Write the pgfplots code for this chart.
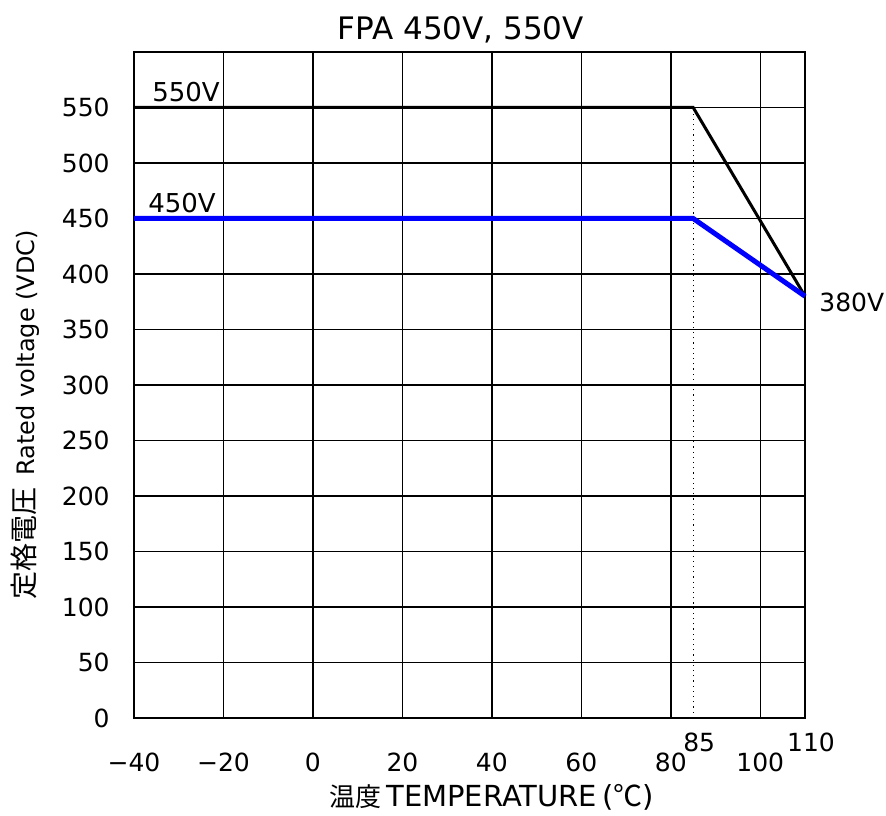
\documentclass[border=0pt]{standalone}
\usepackage{pgfplots}
\pgfplotsset{compat=1.18}
\usepackage{fontspec}
\setmainfont{DejaVu Sans}
\newfontfamily\cjk{Noto Sans CJK JP}
\begin{document}
\begin{tikzpicture}
\begin{axis}[
    width=335.5pt, height=333pt, scale only axis,
    xmin=-40, xmax=110, ymin=0, ymax=600,
    xtick={-40,-20,0,20,40,60,80,100},
    xticklabels={−40,−20,0,20,40,60,80,100},
    ytick={0,50,...,550},
    extra x ticks={85,110},
    extra x tick labels={85,110},
    % the raised labels at 85 and 110
    extra x tick style={grid=none, ticklabel style={yshift=10pt, xshift=3pt}},
    grid=major,
    major grid style={black, line width=0.75pt},
    axis line style={black, line width=1pt},
    major tick length=0pt,
    /pgf/number format/assume math mode=true,
    tick label style={font=\fontsize{12.5}{15}\selectfont},
    xticklabel style={anchor=center, yshift=-22pt},
    yticklabel style={anchor=east, inner sep=0pt, xshift=-12pt},
    title={FPA 450V, 550V},
    title style={font=\fontsize{15.5}{18}\selectfont, at={(rel axis cs:0.487,1)}, anchor=center, yshift=5pt},
    xlabel={{\cjk\fontsize{13}{15}\selectfont 温度}\,TEMPERATURE\,({\cjk ℃})},
    xlabel style={font=\fontsize{14.5}{17}\selectfont, at={(rel axis cs:0.533,0)}, anchor=center, yshift=-39.5pt},
    ylabel={{\cjk\fontsize{14}{16}\selectfont 定格電圧}\hspace{6pt}Rated voltage (VDC)},
    ylabel style={font=\fontsize{12}{14}\selectfont, at={(rel axis cs:-0.1624,0.455)}, anchor=center},
    clip=false,
]
% dotted marker at 85 C
\addplot[black, dotted, line width=0.6pt] coordinates {(85,0) (85,550)};
% 550V rating
\addplot[black, line width=1.5pt] coordinates {(-40,550) (85,550) (110,380)};
% 450V rating
\addplot[blue, line width=2.5pt] coordinates {(-40,450) (85,450) (110,380)};
\node[anchor=base west, inner sep=0pt, yshift=3pt, font=\fontsize{13}{15}\selectfont] at (axis cs:-36,550) {550V};
\node[anchor=base west, inner sep=0pt, yshift=3pt, font=\fontsize{13}{15}\selectfont] at (axis cs:-36.9,450) {450V};
\node[anchor=west, inner sep=0pt, xshift=7pt, font=\fontsize{12.5}{15}\selectfont] at (axis cs:110,374) {380V};
\coordinate (A) at (rel axis cs:0,0);
\coordinate (B) at (rel axis cs:1,1);
\end{axis}
\pgfresetboundingbox
\path[use as bounding box] ([shift={(-67pt,-49pt)}]A) rectangle ([shift={(40.5pt,26pt)}]B);
\end{tikzpicture}
\end{document}
